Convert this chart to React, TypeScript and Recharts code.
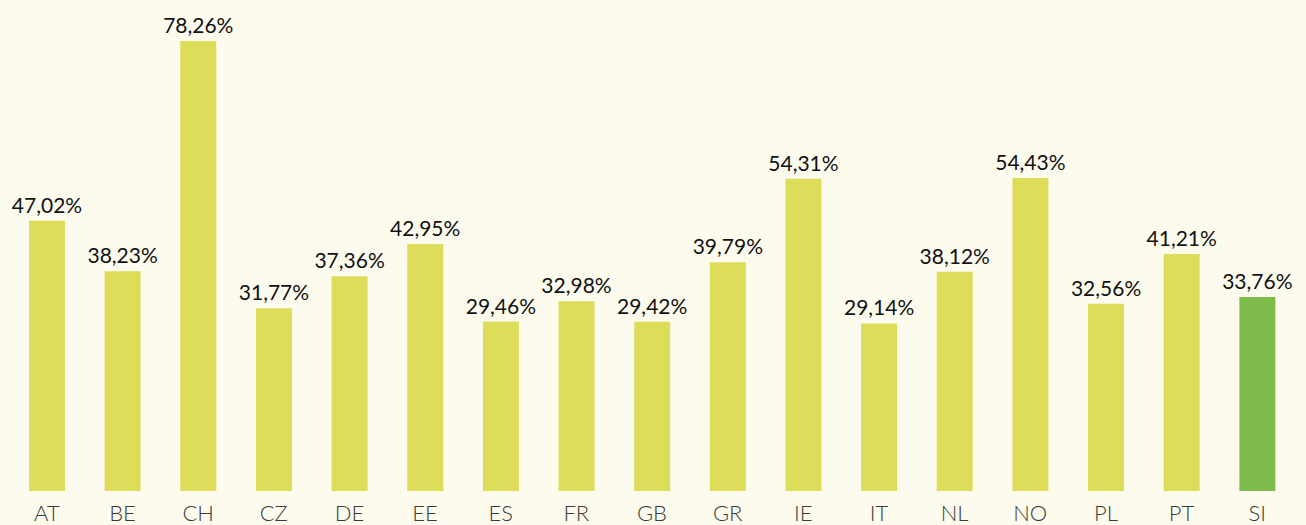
import { Bar, BarChart, Cell, LabelList, XAxis, YAxis } from "recharts";

// Share per country, in percent
const countries = ["AT", "BE", "CH", "CZ", "DE", "EE", "ES", "FR", "GB", "GR", "IE", "IT", "NL", "NO", "PL", "PT", "SI"];
const shares = [47.02, 38.23, 78.26, 31.77, 37.36, 42.95, 29.46, 32.98, 29.42, 39.79, 54.31, 29.14, 38.12, 54.43, 32.56, 41.21, 33.76];
const highlight = "SI";

const BAR = "#dedd5a";
const BAR_HI = "#7dbc4b";
const BG = "#fcfbee";

const data = countries.map((c, i) => ({ country: c, share: shares[i] }));

const pct = (v: unknown) => `${Number(v ?? 0).toFixed(2).replace(".", ",")}%`;

export default function App() {
  return (
    <div style={{ position: "fixed", inset: 0, background: BG, fontFamily: "Lato, sans-serif" }}>
      <BarChart
        width={1306}
        height={525}
        data={data}
        margin={{ top: 31, right: 11, left: 9, bottom: 0 }}
        barSize={36}
      >
        <XAxis
          dataKey="country"
          axisLine={false}
          tickLine={false}
          height={34}
          tickMargin={8}
          tick={{ fill: "#3a3a3a", fontSize: 22, fontWeight: 300, fontFamily: "Lato" }}
        />
        <YAxis hide domain={[0, 80]} />
        <Bar dataKey="share" isAnimationActive={false}>
          {data.map((d) => (
            <Cell key={d.country} fill={d.country === highlight ? BAR_HI : BAR} />
          ))}
          <LabelList
            dataKey="share"
            position="top"
            offset={8}
            formatter={pct}
            style={{ fill: "#111", fontSize: 21, fontFamily: "Lato" }}
          />
        </Bar>
      </BarChart>
    </div>
  );
}
